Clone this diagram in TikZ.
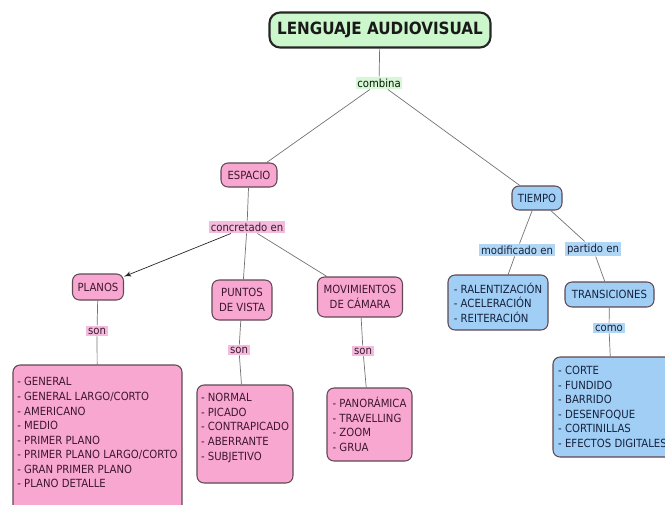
\documentclass[tikz,border=0pt]{standalone}
\usepackage{fontspec}
\setmainfont{DejaVu Sans Condensed}
\usetikzlibrary{arrows}
\definecolor{rosaFondo}{RGB}{248,168,208}
\definecolor{rosaEnlace}{RGB}{244,188,220}
\definecolor{azulFondo}{RGB}{160,206,244}
\definecolor{azulEnlace}{RGB}{176,214,246}
\definecolor{verdeFondo}{RGB}{204,246,204}
\definecolor{verdeEnlace}{RGB}{216,246,216}
\definecolor{borde}{RGB}{96,72,84}
\definecolor{textoRosa}{RGB}{62,22,48}
\definecolor{textoAzul}{RGB}{22,34,62}
\tikzstyle{concepto} = [draw=borde, semithick, rounded corners=4pt, align=center, inner sep=2pt, font=\fontsize{6.4}{8.3}\selectfont]
\tikzstyle{rosa} = [concepto, fill=rosaFondo, text=textoRosa]
\tikzstyle{azul} = [concepto, fill=azulFondo, text=textoAzul]
\tikzstyle{titulo} = [concepto, fill=verdeFondo, draw=black!85, very thick, rounded corners=6pt, text=black!90, font=\fontsize{9.6}{11}\selectfont\bfseries]
\tikzstyle{enlace} = [inner sep=1pt, font=\fontsize{6.4}{8.3}\selectfont]
\tikzstyle{enlaceRosa} = [enlace, fill=rosaEnlace, text=textoRosa]
\tikzstyle{enlaceAzul} = [enlace, fill=azulEnlace, text=textoAzul]
\tikzstyle{enlaceVerde} = [enlace, fill=verdeEnlace, text=black!75!green!40!black]
\tikzstyle{line} = [draw, color=black!55]
\tikzstyle{flecha} = [draw, color=black!85, -latex']
\newcommand{\rosa}[3]{
node (#2) [rosa, #1] {#3}}
\newcommand{\azul}[3]{
node (#2) [azul, #1] {#3}}
\newcommand{\enlace}[3]{
node (#1) [enlace#2] {#3}}
\newcommand{\une}[2]{
  \path [line] (#1) -- (#2);}

\begin{document}
\begin{tikzpicture}[x=0.02cm, y=-0.02cm]
		\useasboundingbox (0,0) rectangle (665,504);
		\clip (0,0) rectangle (665,504);

		% Draw diagram elements
		\path (380,30) node (titulo) [titulo, minimum width=4.42cm, minimum height=0.7cm] {LENGUAJE AUDIOVISUAL};
		\path (379,83) \enlace{combina}{Verde}{combina};
		\path (249,175) \rosa{minimum width=1.12cm, minimum height=0.48cm}{espacio}{ESPACIO};
		\path (537,198) \azul{minimum width=1.0cm, minimum height=0.48cm}{tiempo}{TIEMPO};
		\path (247,227) \enlace{concretado}{Rosa}{concretado en};
		\path (98,287) \rosa{minimum width=1.02cm, minimum height=0.52cm}{planos}{PLANOS};
		\path (242,300) \rosa{minimum width=1.2cm, minimum height=0.8cm}{puntos}{PUNTOS\\DE VISTA};
		\path (360,297) \rosa{minimum width=1.7cm, minimum height=0.8cm}{movimientos}{MOVIMIENTOS\\DE CÁMARA};
		\path (97,331) \enlace{sonPlanos}{Rosa}{son};
		\path (239,350) \enlace{sonPuntos}{Rosa}{son};
		\path (363,351) \enlace{sonMov}{Rosa}{son};
		\path (97.5,440) \rosa{align=left, minimum width=3.38cm, minimum height=3.0cm}{listaPlanos}{- GENERAL\\- GENERAL LARGO/CORTO\\- AMERICANO\\- MEDIO\\- PRIMER PLANO\\- PRIMER PLANO LARGO/CORTO\\- GRAN PRIMER PLANO\\- PLANO DETALLE\\ \mbox{}};
		\path (245,434) \rosa{align=left, minimum width=1.92cm, minimum height=1.96cm}{listaPuntos}{- NORMAL\\- PICADO\\- CONTRAPICADO\\- ABERRANTE\\- SUBJETIVO\\ \mbox{}};
		\path (369.5,424.5) \rosa{align=left, minimum width=1.7cm, minimum height=1.46cm}{listaMov}{- PANORÁMICA\\- TRAVELLING\\- ZOOM\\- GRUA};
		\path (517,250) \enlace{modificado}{Azul}{modificado en};
		\path (593,249) \enlace{partido}{Azul}{partido en};
		\path (498,302.5) \azul{align=left, minimum width=2.0cm, minimum height=1.1cm}{listaTiempo}{- RALENTIZACIÓN\\- ACELERACIÓN\\- REITERACIÓN};
		\path (609.5,294.5) \azul{minimum width=1.78cm, minimum height=0.5cm}{transiciones}{TRANSICIONES};
		\path (609,328) \enlace{como}{Azul}{como};
		\path (612.5,407) \azul{align=left, minimum width=2.38cm, minimum height=2.0cm}{listaTrans}{- CORTE\\- FUNDIDO\\- BARRIDO\\- DESENFOQUE\\- CORTINILLAS\\- EFECTOS DIGITALES};

		% Draw lines between elements
		\une{titulo}{combina}
		\une{combina}{espacio}
		\une{combina}{tiempo}
		\une{espacio}{concretado}
		\path [flecha] (concretado) -- (planos);
		\une{concretado}{puntos}
		\une{concretado}{movimientos}
		\une{planos}{sonPlanos}
		\une{sonPlanos}{listaPlanos}
		\une{puntos}{sonPuntos}
		\une{sonPuntos}{listaPuntos}
		\une{movimientos}{sonMov}
		\une{sonMov}{listaMov}
		\une{tiempo}{modificado}
		\une{modificado}{listaTiempo}
		\une{tiempo}{partido}
		\une{partido}{transiciones}
		\une{transiciones}{como}
		\une{como}{listaTrans}

\end{tikzpicture}
\end{document}
